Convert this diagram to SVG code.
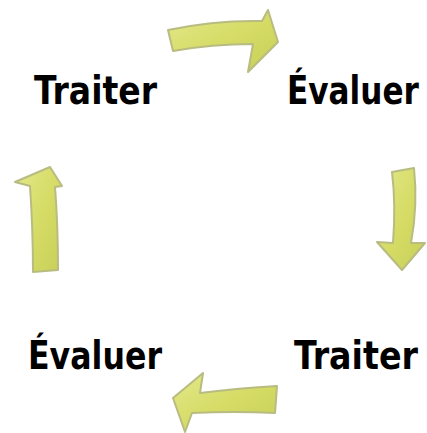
<svg xmlns="http://www.w3.org/2000/svg" width="427" height="433" viewBox="0 0 427 433">
<style>
.lbl{font-family:"DejaVu Sans Condensed","DejaVu Sans",sans-serif;font-stretch:condensed;font-weight:bold;font-size:39px;fill:#000}
.arr{fill:url(#g);stroke:#b8bc80;stroke-width:2;stroke-linejoin:round}
</style>
<defs>
<linearGradient id="g" x1="0" y1="0" x2="1" y2="1">
<stop offset="0" stop-color="#e4e88c"/>
<stop offset="0.5" stop-color="#d6dc66"/>
<stop offset="1" stop-color="#c8d05a"/>
</linearGradient>
</defs>
<g id="connectors">
<path class="arr" d="M168,30 Q215,20 262,21 L268,10 L278,42 L248,72 L253,44 Q212,44 173,51 Z"/>
<path class="arr" d="M392,172 L414,168 Q418,205 411,243 L425,243 L402,270 L377,242 L393,243 Q396,205 392,172 Z"/>
<path class="arr" d="M277,386 L275,413 Q235,411 192,413 L185,432 L173,398 L203,373 L200,393 Q240,388 277,386 Z"/>
<path class="arr" d="M33,272 L58,270 Q58,225 55,187 L62,186 L50,167 L15,182 L30,186 Q33,230 33,272 Z"/>
</g>
<g id="n1"><text class="lbl" x="34" y="104" textLength="123" lengthAdjust="spacingAndGlyphs">Traiter</text></g>
<g id="n2"><text class="lbl" x="287" y="104" textLength="132" lengthAdjust="spacingAndGlyphs">Évaluer</text></g>
<g id="n3"><text class="lbl" x="294" y="369" textLength="124" lengthAdjust="spacingAndGlyphs">Traiter</text></g>
<g id="n4"><text class="lbl" x="28" y="369" textLength="134" lengthAdjust="spacingAndGlyphs">Évaluer</text></g>
</svg>
